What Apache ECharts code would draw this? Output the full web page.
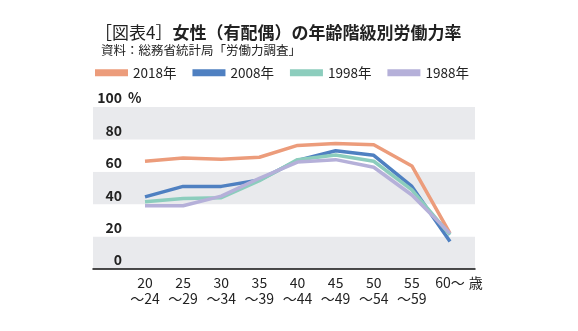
<!DOCTYPE html>
<html>
<head>
<meta charset="utf-8">
<script src="https://cdn.jsdelivr.net/npm/echarts@6/dist/echarts.min.js"></script>
<style>
html,body{margin:0;padding:0;background:#fff;}
#c{width:578px;height:331px;}
</style>
</head>
<body>
<div id="c"></div>
<script>
const categories = ['20\n～24','25\n～29','30\n～34','35\n～39','40\n～44','45\n～49','50\n～54','55\n～59','60～'];
const seriesNames = ['2018年','2008年','1998年','1988年'];
const v2018 = [66.5, 68.5, 67.7, 69, 76.3, 77.5, 76.7, 63.6, 22];
const v2008 = [44.5, 51, 51, 55, 67, 73, 70.2, 51, 17];
const v1998 = [41.5, 43.5, 44, 54.5, 67.5, 70.4, 66.5, 48.8, 21];
const v1988 = [39, 39, 45, 56, 66, 67.5, 62.8, 45.7, 22];
const yTicks = [0, 20, 40, 60, 80, 100];
const colors = ['#ec9c7b', '#4f80c1', '#8ccdbd', '#b5b0d9'];
const FONT = 'Noto Sans CJK JP';

const chart = echarts.init(document.getElementById('c'));
const values = [v2018, v2008, v1998, v1988];
chart.setOption({
  animation: false,
  backgroundColor: '#fff',
  textStyle: { fontFamily: FONT },
  title: [
    {
      text: '{a|［図表4］}{b|女性（有配偶）の年齢階級別労働力率}',
      left: 90, top: 19,
      textStyle: {
        rich: {
          a: { fontSize: 17, fontWeight: 'normal', color: '#222', fontFamily: FONT },
          b: { fontSize: 17, fontWeight: 'bold', color: '#222', fontFamily: FONT }
        }
      }
    },
    {
      text: '資料：総務省統計局「労働力調査」',
      left: 96, top: 39,
      textStyle: { fontSize: 12.5, fontWeight: 'normal', color: '#222', fontFamily: FONT }
    }
  ],
  legend: {
    left: 95, top: 66, padding: 0,
    icon: 'rect', itemWidth: 33, itemHeight: 7, itemGap: 16,
    textStyle: { fontSize: 13.5, color: '#222', fontFamily: 'Noto Sans CJK JP, Noto Sans, sans-serif' },
    data: seriesNames
  },
  grid: [
    { left: 93, right: 103, top: 107, bottom: 62 },
    { left: 145, right: 128, top: 107, bottom: 62 }
  ],
  xAxis: [
    {
      gridIndex: 0, type: 'value', min: 0, max: 1,
      axisLine: { show: true, lineStyle: { color: '#111', width: 1.5 } },
      axisTick: { show: false }, axisLabel: { show: false }, splitLine: { show: false }
    },
    {
      gridIndex: 1, type: 'category', boundaryGap: false, data: categories,
      axisLine: { show: false }, axisTick: { show: false },
      axisLabel: { fontSize: 14, color: '#222', lineHeight: 16, margin: 6, fontFamily: FONT, interval: 0 },
      name: '歳', nameLocation: 'end', nameGap: 14,
      nameTextStyle: { fontSize: 14, color: '#222', align: 'left', verticalAlign: 'top', padding: [7, 0, 0, 0], fontFamily: FONT }
    }
  ],
  yAxis: [
    {
      gridIndex: 0, type: 'value', min: yTicks[0], max: yTicks[yTicks.length - 1], interval: 20,
      axisLine: { show: false }, axisTick: { show: false },
      splitLine: { show: false },
      splitArea: { show: true, areaStyle: { color: ['#e9eaed', '#ffffff'] } },
      axisLabel: {
        inside: true, align: 'right', verticalAlign: 'bottom', margin: 29,
        padding: [0, 0, 2, 0],
        fontSize: 14, fontWeight: 'bold', color: '#222', fontFamily: FONT
      },
      name: '%', nameLocation: 'end', nameGap: 9,
      nameTextStyle: { fontSize: 14, fontWeight: 'bold', color: '#222', align: 'left', verticalAlign: 'middle', padding: [0, 0, 0, 35], fontFamily: FONT }
    },
    {
      gridIndex: 1, type: 'value', min: 0, max: 100, show: false
    }
  ],
  series: seriesNames.map((n, i) => ({
    name: n, type: 'line', xAxisIndex: 1, yAxisIndex: 1,
    data: values[i], symbol: 'none', smooth: false,
    color: colors[i],
    lineStyle: { width: 3.5, color: colors[i] },
    itemStyle: { color: colors[i] }
  }))
});
</script>
</body>
</html>
